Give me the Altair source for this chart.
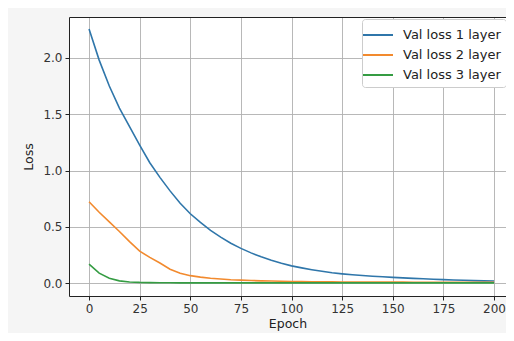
import altair as alt
import pandas as pd

epochs = list(range(0, 201, 5))
loss_1 = [2.257, 1.98, 1.75, 1.555, 1.39, 1.226, 1.07, 0.94, 0.82, 0.71,
          0.617, 0.54, 0.47, 0.41, 0.355, 0.31, 0.27, 0.235, 0.205, 0.178,
          0.155, 0.137, 0.121, 0.107, 0.094, 0.084, 0.076, 0.069, 0.063, 0.058,
          0.053, 0.048, 0.044, 0.040, 0.036, 0.033, 0.030, 0.027, 0.024, 0.022,
          0.020]
loss_2 = [0.724, 0.63, 0.545, 0.46, 0.37, 0.285, 0.23, 0.18, 0.125, 0.09,
          0.068, 0.055, 0.045, 0.038, 0.032, 0.028, 0.025, 0.022, 0.020, 0.018,
          0.016, 0.015, 0.014, 0.013, 0.013, 0.012, 0.012, 0.012, 0.011, 0.011,
          0.011, 0.011, 0.010, 0.010, 0.010, 0.010, 0.010, 0.010, 0.010, 0.010,
          0.010]
loss_3 = [0.17, 0.09, 0.045, 0.022, 0.012, 0.008, 0.006, 0.005, 0.005, 0.004,
          0.004, 0.004, 0.004, 0.004, 0.004, 0.004, 0.004, 0.004, 0.004, 0.004,
          0.004, 0.004, 0.004, 0.004, 0.004, 0.004, 0.004, 0.004, 0.004, 0.004,
          0.004, 0.004, 0.004, 0.004, 0.004, 0.004, 0.004, 0.004, 0.004, 0.004,
          0.004]
series_names = ["Val loss 1 layer", "Val loss 2 layer", "Val loss 3 layer"]
series_colors = ["#2f76aa", "#f28a2e", "#359c43"]
x_ticks = [0, 25, 50, 75, 100, 125, 150, 175, 200]
y_ticks = [0, 0.5, 1.0, 1.5, 2.0]

rows = []
for name, vals in zip(series_names, [loss_1, loss_2, loss_3]):
    for e, v in zip(epochs, vals):
        rows.append({"Epoch": e, "Loss": v, "Series": name})
df = pd.DataFrame(rows)

x_scale = alt.Scale(domain=[-9.9, 205.9], nice=False, zero=False)
y_scale = alt.Scale(domain=[-0.1125, 2.3625], nice=False, zero=False)

lines = alt.Chart(df).mark_line(strokeWidth=1.6).encode(
    x=alt.X("Epoch:Q", scale=x_scale,
            axis=alt.Axis(values=x_ticks, title="Epoch", titlePadding=3)),
    y=alt.Y("Loss:Q", scale=y_scale,
            axis=alt.Axis(values=y_ticks, format=".1f",
                          title="Loss", titlePadding=7)),
    color=alt.Color("Series:N",
                    scale=alt.Scale(domain=series_names, range=series_colors),
                    legend=alt.Legend(title=None, orient="none",
                                      legendX=293, legendY=2,
                                      symbolType="M-1.5,0L1.5,0",
                                      symbolSize=400,
                                      symbolStrokeWidth=2,
                                      labelFontSize=13, labelColor="#222",
                                      labelFont="DejaVu Sans", labelOffset=14,
                                      fillColor="white", strokeColor="#cccccc",
                                      cornerRadius=3, padding=5,
                                      rowPadding=2)),
)

top_spine = alt.Chart(df).mark_line(opacity=0).encode(
    x=alt.X("Epoch:Q", scale=x_scale,
            axis=alt.Axis(orient="top", labels=False, ticks=False, grid=False,
                          domain=True, title=None)),
    y=alt.Y("Loss:Q", scale=y_scale),
)

chart = alt.layer(lines, top_spine).resolve_axis(x="independent").properties(
    width=437, height=279,
    autosize=alt.AutoSizeParams(type="none"),
    padding={"left": 61, "top": 9, "right": 0, "bottom": 37},
    background="#f5f5f5",
).configure_view(
    fill="white", strokeWidth=0
).configure_axis(
    labelFont="DejaVu Sans", titleFont="DejaVu Sans",
    labelFontSize=12, titleFontSize=12.5, titleFontWeight="normal",
    labelColor="#333", titleColor="#222",
    domainColor="#222", tickColor="#222", tickSize=4, labelPadding=3,
    gridColor="#b0b0b0", gridWidth=0.9, grid=True,
)

chart.save("out.html", embed_options={"renderer": "svg", "actions": False})
